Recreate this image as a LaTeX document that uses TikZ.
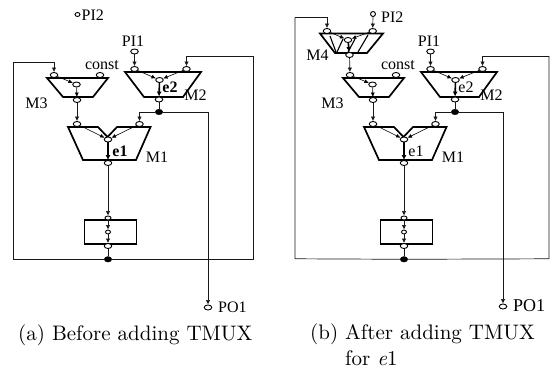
\documentclass[tikz,border=0pt]{standalone}
\usepackage{fontspec}
\newfontfamily\tnr{Liberation Serif}
\newfontfamily\capf{lmroman10-regular.otf}
\newfontfamily\capi{lmroman10-italic.otf}
\usetikzlibrary{shapes.geometric,arrows.meta}
\tikzset{
  port/.style={ellipse,draw=black,fill=white,line width=0.9pt,minimum width=7.5pt,minimum height=5pt,inner sep=0pt},
  tiny port/.style={port,minimum width=5pt,minimum height=4pt},
  junction/.style={ellipse,fill=black,draw=black,minimum width=7.5pt,minimum height=5.5pt,inner sep=0pt},
  body/.style={draw=black,line width=1.7pt,line join=miter},
  wire/.style={draw=black!90,line width=0.7pt},
  feed/.style={wire,-{Latex[length=4.5pt,width=4.5pt]}},
  inner/.style={draw=black,line width=0.6pt,-{Latex[length=4.5pt,width=4pt]}},
  heavy/.style={draw=black,line width=1.6pt,-{Latex[length=5pt,width=5pt]}},
  hatch/.style={draw=black,line width=1.1pt},
  lab/.style={font=\tnr\fontsize{16}{18}\selectfont,inner sep=0pt},
  captext/.style={font=\capf\fontsize{21}{24}\selectfont,inner sep=0pt,anchor=west},
}
\newcommand{\corepart}[2]{%
  % M3
  \draw[body] (47,78) -- (108,78) -- (93,97) -- (63,97) -- cycle;
  \node[port] (#1m3a) at (54,75) {};
  \node[port] (#1m3b) at (100,75) {};
  \node[port] (#1m3i) at (76.5,84.5) {};
  \node[port] (#1m3o) at (77,100) {};
  \node[lab] (#1const) at (102,65) {const};
  \node[lab] (#1lm3) at (36.5,103) {M3};
  \draw[inner] (#1m3a) -- (#1m3i);
  \draw[inner] (#1m3i) -- (#1m3o);
  % M2
  \draw[body] (125,72) -- (201,72) -- (183,97) -- (144,97) -- cycle;
  \node[port] (#1m2a) at (134.5,69) {};
  \node[port] (#1m2b) at (186.5,69) {};
  \node[port] (#1m2i) at (159.5,80) {};
  \node[port] (#1m2o) at (159,99.5) {};
  \node[junction] (#1dot) at (159,112) {};
  \node[port] (#1pi1) at (134.5,51.5) {};
  \node[lab] (#1lpi1) at (133,41) {PI1};
  \node[lab] (#1lm2) at (195.5,95.5) {M2};
  \node[lab,font=\tnr\fontsize{16}{18}\selectfont#2] (#1le2) at (170,87) {e2};
  \draw[feed] (#1pi1) -- (#1m2a);
  \draw[inner] (#1m2a) -- (#1m2i);
  \draw[inner] (#1m2b) -- (#1m2i);
  \draw[heavy] (#1m2i) -- (#1m2o);
  \draw[wire] (#1m2o) -- (#1dot);
  % M1
  \draw[body] (68,127) -- (98,127) -- (107.5,137) -- (117,127) -- (150.5,127) -- (136,160) -- (83,160) -- cycle;
  \node[port] (#1m1a) at (77,124) {};
  \node[port] (#1m1b) at (139.5,124) {};
  \node[port] (#1m1i) at (108,139.5) {};
  \node[port] (#1m1o) at (108,163) {};
  \node[lab] (#1lm1) at (157,157) {M1};
  \node[lab,font=\tnr\fontsize{16}{18}\selectfont#2] (#1le1) at (120,151) {e1};
  \draw[inner] (#1m1a) -- (#1m1i);
  \draw[inner] (#1m1b) -- (#1m1i);
  \draw[heavy] (#1m1i) -- (#1m1o);
  \draw[feed] (#1m3o) -- (#1m1a);
  \draw[feed] (#1dot) -| (#1m1b);
  % register box
  \draw[body,line width=1.4pt] (84.5,220) rectangle (136.5,244);
  \node[tiny port,minimum width=6pt] (#1ra) at (108,218) {};
  \node[tiny port] (#1rb) at (108,232) {};
  \node[port] (#1rc) at (108,246) {};
  \node[junction] (#1fb) at (108,259.3) {};
  \draw[feed] (#1m1o) -- (#1ra);
  \draw[feed] (#1ra) -- (#1rb);
  \draw[feed] (#1rb) -- (#1rc);
  \draw[wire] (#1rc) -- (#1fb);
}
\begin{document}
\begin{tikzpicture}[x=1pt,y=-1pt]
\useasboundingbox (0,0) rectangle (555,366);
% ---- panel (a)
\corepart{a}{\bfseries}
\node[port,minimum width=5pt,minimum height=4pt] (api2) at (77.5,14.5) {};
\node[lab,anchor=west] (alpi2) at (81.5,15.5) {PI2};
\node[port] (apo) at (208,307.5) {};
\node[lab,anchor=west] (alpo) at (218,307) {PO1};
\coordinate (aul) at (13.5,62);
\coordinate (all) at (13.5,259.3);
\coordinate (aur) at (253.7,56.5);
\coordinate (alr) at (253.7,259.3);
\draw[wire] (afb) -- (all) -- (aul);
\draw[feed] (aul) -| (am3a);
\draw[wire] (afb) -- (alr) -- (aur);
\draw[feed] (aur) -| (am2b);
\draw[feed] (adot) -| (apo);
% ---- panel (b)
\begin{scope}[xshift=296pt]
\corepart{b}{}
\end{scope}
\draw[body] (320,33.5) -- (383,33.5) -- (367,53) -- (335,53) -- cycle;
\draw[hatch] (330,36) -- (336,52);
\draw[hatch] (343,39) -- (337,52);
\draw[hatch] (355,39) -- (348,52);
\draw[hatch] (368,35) -- (358,52);
\node[port] (bm4a) at (327,31) {};
\node[port] (bm4b) at (372.7,31) {};
\node[port] (bm4i) at (348,40) {};
\node[port] (bm4o) at (349.5,55) {};
\node[lab] (blm4) at (317.5,55) {M4};
\node[port,minimum width=5pt,minimum height=5pt] (bpi2) at (373,14) {};
\node[lab,anchor=west] (blpi2) at (381,17) {PI2};
\node[port] (bpo) at (503,306.5) {};
\node[lab,anchor=west,font=\tnr\fontsize{18}{20}\selectfont] (blpo) at (513,305.5) {PO1};
\draw[inner] (bm4a) -- (bm4i);
\draw[inner] (bm4b) -- (bm4i);
\draw[heavy] (bm4i) -- (bm4o);
\draw[feed] (bpi2) -- (bm4b);
\draw[feed] (bm4o) -- (bm3a);
\coordinate (bul) at (295,17.5);
\coordinate (bll) at (295,258.8);
\coordinate (bur) at (549,56);
\coordinate (blr) at (549,258.8);
\draw[wire] (bfb) -- (bll) -- (bul);
\draw[feed] (bul) -| (bm4a);
\draw[wire] (bfb) -- (blr) -- (bur);
\draw[feed] (bur) -| (bm2b);
\draw[feed] (bdot) -| (bpo);
% ---- captions
\node[captext] (capa) at (18,335) {(a) Before adding TMUX};
\node[captext] (capb) at (310,334) {(b) After adding TMUX};
\node[captext] (capc) at (345,358) {for {\capi e}1};
\end{tikzpicture}
\end{document}
